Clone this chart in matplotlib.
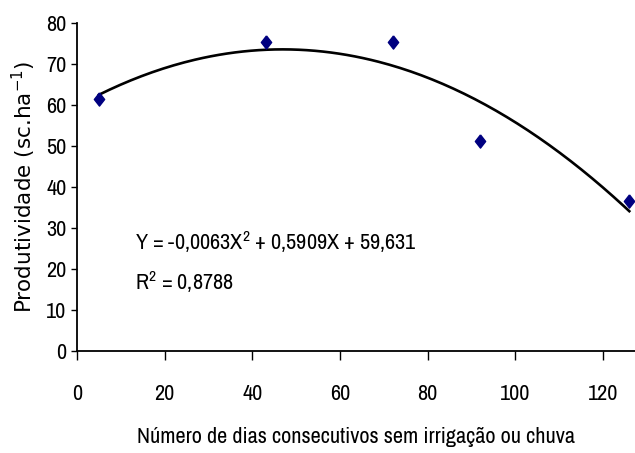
import numpy as np
import matplotlib
matplotlib.use('Agg')
import matplotlib.pyplot as plt

# observed points
dias = [5, 43, 72, 92, 126]
prod = [61.3, 75.4, 75.4, 51.1, 36.5]

# quadratic trendline as printed on the chart
coef = [-0.0063, 0.5909, 59.631]
eq_txt = 'Y = -0,0063X$^{\\mathregular{2}}$ + 0,5909X + 59,631'
r2_txt = 'R$^{\\mathregular{2}}$ = 0,8788'

xticks = [0, 20, 40, 60, 80, 100, 120]
yticks = [0, 10, 20, 30, 40, 50, 60, 70, 80]

narrow = ['Archivo Narrow', 'Roboto Condensed', 'DejaVu Sans']
plt.rcParams['font.family'] = narrow
plt.rcParams['mathtext.fontset'] = 'custom'
plt.rcParams['mathtext.rm'] = 'Archivo Narrow'

fig = plt.figure(figsize=(6.35, 4.53), dpi=100)
ax = fig.add_axes([0.1213, 0.2252, 0.8787, 0.7248])

xs = np.linspace(min(dias), max(dias), 200)
ax.plot(xs, np.polyval(coef, xs), color='black', lw=1.9, zorder=2)

diamond = [(0, 1), (0.78, 0), (0, -1), (-0.78, 0), (0, 1)]
ax.plot(dias, prod, ls='none', marker=diamond, ms=9.5, color='#000080',
        mec='#000080', zorder=3, clip_on=False)

ax.set_xlim(0, 127.3)
ax.set_ylim(0, 80)
ax.set_xticks(xticks)
ax.set_yticks(yticks)
ax.tick_params(axis='x', direction='out', length=6.5, width=1, pad=17,
               labelsize=16)
ax.tick_params(axis='y', direction='out', length=4.5, width=1, pad=3,
               labelsize=16)

for s in ['top', 'right']:
    ax.spines[s].set_visible(False)
for s in ['left', 'bottom']:
    ax.spines[s].set_linewidth(1.3)

ax.set_ylabel('Produtividade (sc.ha$^{\\mathregular{-1}}$)', fontsize=15.5,
              family=['DejaVu Sans'], labelpad=6)
ax.set_xlabel('Número de dias consecutivos sem irrigação ou chuva',
              fontsize=16, labelpad=17)

ax.text(13.2, 24.6, eq_txt, fontsize=16, va='baseline')
ax.text(13.2, 14.9, r2_txt, fontsize=16, va='baseline')

fig.savefig('out.png', dpi=100)
